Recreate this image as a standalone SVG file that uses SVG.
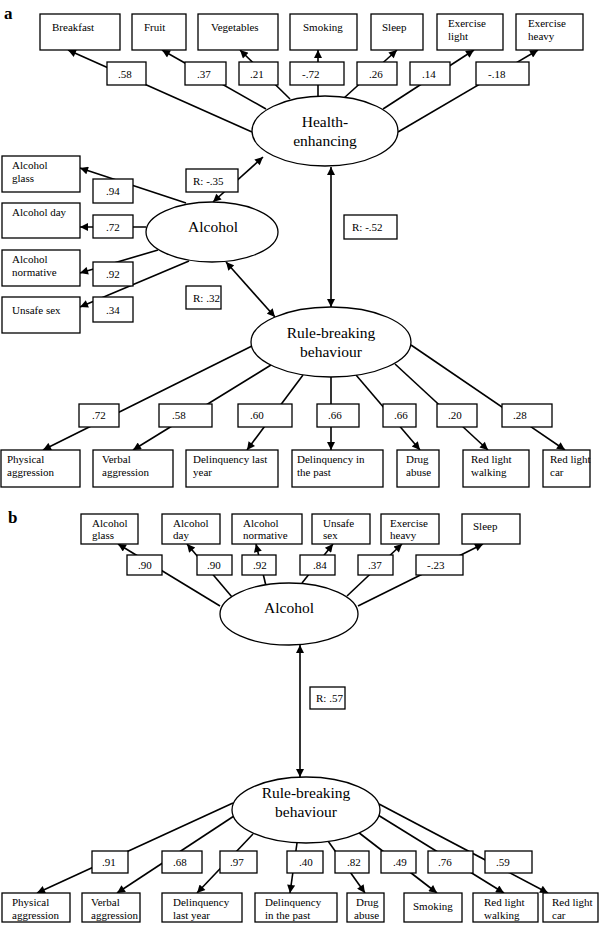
<svg xmlns="http://www.w3.org/2000/svg" width="602" height="925" viewBox="0 0 602 925">
<style>
rect{fill:#fff;stroke:#000;stroke-width:1.3}
ellipse{fill:#fff;stroke:#000;stroke-width:1.3}
text{font-family:"Liberation Serif","Times New Roman",serif;font-size:11px;fill:#000}
.big{font-size:15.5px;text-anchor:middle}
.pl{font-size:17px;font-weight:bold}
#connectors path{fill:none;stroke:#000;stroke-width:1.6}
.one{marker-end:url(#ah)}
.two{marker-start:url(#ah);marker-end:url(#ah)}
</style>
<defs>
<marker id="ah" viewBox="0 0 10 10" refX="10" refY="5" markerWidth="10" markerHeight="8" markerUnits="userSpaceOnUse" orient="auto-start-reverse"><path d="M0,0 L10,5 L0,10 z" fill="#000"/></marker>
</defs>
<rect x="0" y="0" width="602" height="925" style="fill:#fff;stroke:none"/>
<text class="pl" x="4" y="19">a</text>
<text class="pl" x="8" y="523">b</text>

<g id="connectors">
<path class="one" d="M252,132 L68,50"/>
<path class="one" d="M266,109 L162,50"/>
<path class="one" d="M290,99 L240,50"/>
<path class="one" d="M318,96 L318,50"/>
<path class="one" d="M344,98 L397,50"/>
<path class="one" d="M383,109 L474,50"/>
<path class="one" d="M398,132 L538,50"/>
<path class="one" d="M186,203 L80,168"/>
<path class="one" d="M146,227 L80,227"/>
<path class="one" d="M158,250 L80,273"/>
<path class="one" d="M189,261 L80,307"/>
<path class="two" d="M213,202 L263,157"/>
<path class="two" d="M226,262 L275,317"/>
<path class="two" d="M331,167 L331,307"/>
<path class="one" d="M252,346 L43,450"/>
<path class="one" d="M271,365 L133,450"/>
<path class="one" d="M303,375 L247,450"/>
<path class="one" d="M331,377 L331,450"/>
<path class="one" d="M356,375 L420,450"/>
<path class="one" d="M395,364 L488,450"/>
<path class="one" d="M411,345 L565,450"/>
<path class="one" d="M220,606 L118,544"/>
<path class="one" d="M232,597 L187,544"/>
<path class="one" d="M266,586 L256,544"/>
<path class="one" d="M302,583 L333,544"/>
<path class="one" d="M347,596 L402,544"/>
<path class="one" d="M358,606 L483,544"/>
<path class="two" d="M300,645 L300,777"/>
<path class="one" d="M233,803 L37,893"/>
<path class="one" d="M234,816 L117,893"/>
<path class="one" d="M253,834 L197,893"/>
<path class="one" d="M297,843 L290,893"/>
<path class="one" d="M328,841 L365,893"/>
<path class="one" d="M358,832 L437,893"/>
<path class="one" d="M378,815 L504,893"/>
<path class="one" d="M379,804 L548,893"/>
</g>

<g id="labels">
<rect x="107" y="62" width="39" height="23"/><text x="118" y="78">.58</text>
<rect x="185" y="62" width="41" height="23"/><text x="197" y="78">.37</text>
<rect x="239" y="62" width="39" height="23"/><text x="250" y="78">.21</text>
<rect x="290" y="62" width="54" height="23"/><text x="302" y="78">-.72</text>
<rect x="357" y="62" width="40" height="23"/><text x="369" y="78">.26</text>
<rect x="410" y="62" width="40" height="23"/><text x="422" y="78">.14</text>
<rect x="476" y="62" width="53" height="23"/><text x="488" y="78">-.18</text>
<rect x="93" y="179" width="40" height="24"/><text x="106" y="195">.94</text>
<rect x="93" y="215" width="40" height="23"/><text x="106" y="231">.72</text>
<rect x="93" y="262" width="40" height="24"/><text x="106" y="278">.92</text>
<rect x="93" y="297" width="40" height="25"/><text x="106" y="314">.34</text>
<rect x="186" y="169" width="52" height="23"/><text x="193" y="185">R: -.35</text>
<rect x="186" y="286" width="35" height="23"/><text x="193" y="302">R: .32</text>
<rect x="344" y="215" width="53" height="24"/><text x="352" y="231">R: -.52</text>
<rect x="79" y="404" width="40" height="23"/><text x="92" y="419">.72</text>
<rect x="159" y="404" width="53" height="23"/><text x="172" y="419">.58</text>
<rect x="238" y="404" width="54" height="23"/><text x="250" y="419">.60</text>
<rect x="317" y="404" width="42" height="23"/><text x="328" y="419">.66</text>
<rect x="383" y="404" width="33" height="23"/><text x="394" y="419">.66</text>
<rect x="437" y="404" width="40" height="23"/><text x="448" y="419">.20</text>
<rect x="502" y="404" width="50" height="23"/><text x="513" y="419">.28</text>
<rect x="127" y="555" width="35" height="20"/><text x="138" y="569">.90</text>
<rect x="197" y="555" width="35" height="20"/><text x="207" y="569">.90</text>
<rect x="242" y="555" width="34" height="20"/><text x="253" y="569">.92</text>
<rect x="300" y="555" width="35" height="20"/><text x="313" y="569">.84</text>
<rect x="358" y="555" width="35" height="20"/><text x="368" y="569">.37</text>
<rect x="416" y="555" width="47" height="20"/><text x="427" y="569">-.23</text>
<rect x="310" y="687" width="35" height="22"/><text x="316" y="702">R: .57</text>
<rect x="92" y="851" width="36" height="22"/><text x="102" y="866">.91</text>
<rect x="162" y="851" width="40" height="22"/><text x="173" y="866">.68</text>
<rect x="220" y="851" width="37" height="22"/><text x="230" y="866">.97</text>
<rect x="287" y="851" width="36" height="22"/><text x="299" y="866">.40</text>
<rect x="335" y="851" width="34" height="22"/><text x="347" y="866">.82</text>
<rect x="381" y="851" width="35" height="22"/><text x="393" y="866">.49</text>
<rect x="428" y="851" width="45" height="22"/><text x="438" y="866">.76</text>
<rect x="485" y="851" width="47" height="22"/><text x="496" y="866">.59</text>
</g>

<g id="a-health"><ellipse cx="325" cy="131" rx="73" ry="35"/><text class="big" x="325" y="127">Health-</text><text class="big" x="325" y="146">enhancing</text></g>
<g id="a-alcohol"><ellipse cx="212" cy="232" rx="66" ry="30"/><text class="big" x="213" y="232">Alcohol</text></g>
<g id="a-rule"><ellipse cx="331" cy="342" rx="80" ry="35"/><text class="big" x="331" y="338">Rule-breaking</text><text class="big" x="331" y="357">behaviour</text></g>

<g id="a-breakfast"><rect x="40" y="14" width="80" height="36"/><text x="52" y="31">Breakfast</text></g>
<g id="a-fruit"><rect x="132" y="14" width="54" height="36"/><text x="144" y="31">Fruit</text></g>
<g id="a-vegetables"><rect x="198" y="14" width="80" height="36"/><text x="211" y="31">Vegetables</text></g>
<g id="a-smoking"><rect x="290" y="14" width="67" height="36"/><text x="303" y="31">Smoking</text></g>
<g id="a-sleep"><rect x="371" y="14" width="52" height="36"/><text x="382" y="31">Sleep</text></g>
<g id="a-exlight"><rect x="437" y="14" width="66" height="36"/><text x="448" y="27">Exercise</text><text x="448" y="40">light</text></g>
<g id="a-exheavy"><rect x="516" y="14" width="67" height="36"/><text x="528" y="27">Exercise</text><text x="528" y="40">heavy</text></g>

<g id="a-alcglass"><rect x="2" y="156" width="78" height="36"/><text x="12" y="169">Alcohol</text><text x="12" y="182">glass</text></g>
<g id="a-alcday"><rect x="2" y="203" width="78" height="35"/><text x="12" y="216">Alcohol day</text></g>
<g id="a-alcnorm"><rect x="2" y="250" width="78" height="36"/><text x="12" y="263">Alcohol</text><text x="12" y="276">normative</text></g>
<g id="a-unsafe"><rect x="2" y="297" width="78" height="36"/><text x="12" y="314">Unsafe sex</text></g>

<g id="a-physical"><rect x="1" y="450" width="79" height="37"/><text x="7" y="463">Physical</text><text x="7" y="476">aggression</text></g>
<g id="a-verbal"><rect x="93" y="450" width="80" height="37"/><text x="102" y="463">Verbal</text><text x="102" y="476">aggression</text></g>
<g id="a-delly"><rect x="186" y="450" width="92" height="37"/><text x="193" y="463">Delinquency last</text><text x="193" y="476">year</text></g>
<g id="a-delpast"><rect x="292" y="450" width="91" height="37"/><text x="297" y="463">Delinquency in</text><text x="297" y="476">the past</text></g>
<g id="a-drug"><rect x="397" y="450" width="42" height="37"/><text x="406" y="463">Drug</text><text x="406" y="476">abuse</text></g>
<g id="a-rlwalk"><rect x="463" y="450" width="66" height="37"/><text x="471" y="463">Red light</text><text x="471" y="476">walking</text></g>
<g id="a-rlcar"><rect x="543" y="450" width="47" height="37"/><text x="550" y="463">Red light</text><text x="550" y="476">car</text></g>

<g id="b-alcohol"><ellipse cx="289" cy="614" rx="69" ry="31"/><text class="big" x="289" y="613">Alcohol</text></g>
<g id="b-rule"><ellipse cx="306" cy="810" rx="74" ry="33"/><text class="big" x="306" y="798">Rule-breaking</text><text class="big" x="306" y="817">behaviour</text></g>

<g id="b-alcglass"><rect x="81" y="514" width="57" height="30"/><text x="92" y="527">Alcohol</text><text x="92" y="539">glass</text></g>
<g id="b-alcday"><rect x="162" y="514" width="58" height="30"/><text x="173" y="527">Alcohol</text><text x="173" y="539">day</text></g>
<g id="b-alcnorm"><rect x="232" y="514" width="70" height="30"/><text x="243" y="527">Alcohol</text><text x="243" y="539">normative</text></g>
<g id="b-unsafe"><rect x="312" y="514" width="58" height="30"/><text x="323" y="527">Unsafe</text><text x="323" y="539">sex</text></g>
<g id="b-exheavy"><rect x="381" y="514" width="58" height="30"/><text x="390" y="527">Exercise</text><text x="390" y="539">heavy</text></g>
<g id="b-sleep"><rect x="462" y="514" width="58" height="30"/><text x="473" y="530">Sleep</text></g>

<g id="b-physical"><rect x="2" y="893" width="68" height="29"/><text x="12" y="906">Physical</text><text x="12" y="919">aggression</text></g>
<g id="b-verbal"><rect x="82" y="893" width="58" height="29"/><text x="91" y="906">Verbal</text><text x="91" y="919">aggression</text></g>
<g id="b-delly"><rect x="162" y="893" width="80" height="29"/><text x="173" y="906">Delinquency</text><text x="173" y="919">last year</text></g>
<g id="b-delpast"><rect x="255" y="893" width="82" height="29"/><text x="265" y="906">Delinquency</text><text x="265" y="919">in the past</text></g>
<g id="b-drug"><rect x="347" y="893" width="37" height="29"/><text x="356" y="906">Drug</text><text x="354" y="919">abuse</text></g>
<g id="b-smoking"><rect x="404" y="893" width="58" height="29"/><text x="413" y="910">Smoking</text></g>
<g id="b-rlwalk"><rect x="473" y="893" width="65" height="29"/><text x="484" y="906">Red light</text><text x="484" y="919">walking</text></g>
<g id="b-rlcar"><rect x="543" y="893" width="55" height="29"/><text x="552" y="906">Red light</text><text x="552" y="919">car</text></g>
</svg>
